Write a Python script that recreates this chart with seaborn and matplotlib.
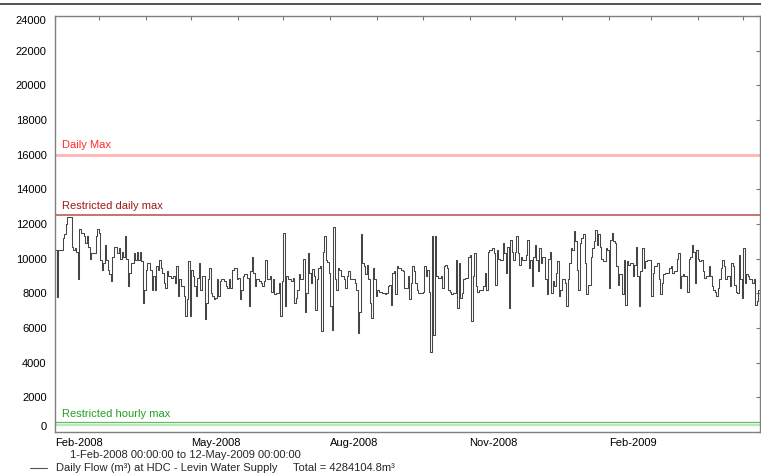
import numpy as np
import pandas as pd
import matplotlib
matplotlib.use("Agg")
import matplotlib.pyplot as plt
import matplotlib.dates as mdates
from matplotlib.lines import Line2D
from matplotlib.ticker import FuncFormatter
import seaborn as sns

# Daily flow (m³), one value per day from 1-Feb-2008
flow_feb_may_2008 = [
    10500, 7800, 10500, 10500, 10500, 11200, 11400, 12000, 12400, 12400, 12400, 10700,
    10500, 10600, 10400, 8800, 11700, 11500, 11500, 11300, 10900, 11300, 10700, 10000,
    10300, 10300, 10300, 11300, 11700, 11500, 9950, 9350, 9750, 10800, 9950, 9350,
    9100, 8700, 10100, 10700, 10700, 10300, 10600, 10000, 10400, 10100, 11300, 10000,
    8400, 9200, 9750, 9750, 10300, 9950, 10400, 9950, 10400, 9850, 7450, 8200,
    9350, 9750, 9750, 9350, 8200, 9000, 8200, 9550, 9350, 9950, 9450, 9200,
    8600, 8300, 9300, 9000, 9000, 8900, 9000, 8600, 9550, 7850, 8800, 8400,
    8400, 7850, 6700, 7650, 9850, 6700, 9350, 9000, 8400, 7850, 8900, 9750,
    8200, 9000, 9000, 6500, 7450, 8800, 9450, 8000, 7850, 7650, 7750, 8800,
    7850, 8700, 8800, 8800, 8700, 8400, 8300, 8800,
]
flow_may_sep_2008 = [
    8300, 9350, 9450, 9450, 8800, 8900, 7650, 8200, 9000, 9100, 9100, 8900,
    7250, 9300, 10100, 9200, 8400, 8800, 8800, 8700, 8600, 8400, 8700, 9950,
    8800, 8800, 9000, 8100, 8800, 7950, 8000, 8000, 8600, 6700, 8700, 11500,
    7250, 9000, 8800, 8800, 8700, 8900, 7450, 7750, 8200, 9100, 8800, 8800,
    10000, 6950, 8000, 10300, 9200, 8600, 9400, 9000, 7050, 8800, 9450, 9550,
    5800, 10400, 11300, 9950, 9800, 9200, 7250, 5900, 11800, 8800, 8200, 9450,
    9350, 9000, 9000, 8800, 8300, 9000, 9300, 8800, 8800, 8800, 8600, 8200,
    5700, 6950, 11400, 9750, 9550, 9100, 9650, 8800, 7450, 6600, 9450, 8800,
    7850, 8200, 8100, 8100, 8000, 8000, 7950, 8000, 8400, 8500, 7350, 9200,
    9300, 7950, 9550, 9450, 9450, 9350, 9300, 8300,
]
flow_sep_2008_jan_2009 = [
    8300, 9000, 7650, 8600, 9550, 9300, 8600, 8200, 8000, 8000, 8000, 8100,
    9550, 9000, 9350, 8100, 4600, 11300, 5600, 11300, 9000, 8900, 8900, 9000,
    8300, 9550, 9650, 9450, 8200, 8100, 7950, 8000, 8000, 9950, 7150, 9750,
    7750, 8000, 8800, 8900, 8900, 10100, 10200, 6400, 9000, 10300, 8400, 8100,
    8200, 8200, 8200, 8400, 9200, 8200, 10400, 10500, 10500, 10600, 10300, 8500,
    10500, 10000, 9950, 9950, 10900, 10300, 9200, 10700, 7150, 11100, 10400, 9950,
    10400, 11300, 10300, 9650, 10100, 9950, 9950, 10200, 11100, 9450, 9950, 8450,
    10100, 10800, 9950, 9300, 10600, 9750, 10100, 10100, 8800, 7950, 10000, 10400,
    8000, 8700, 8400, 9200, 9850, 7850, 8200, 8800, 8800, 8600, 7250, 8800,
    9750, 10600, 10500, 11600, 11000, 9350, 8200, 10900,
]
flow_jan_may_2009 = [
    11200, 11400, 9750, 7950, 8500, 8500, 10100, 10600, 11000, 11650, 10800, 11400,
    10700, 10000, 9850, 9850, 10600, 10500, 8300, 11100, 11500, 11000, 10900, 9550,
    8500, 9100, 9100, 7950, 9950, 7350, 9850, 9650, 9750, 9750, 9000, 9650,
    10700, 9000, 7250, 9300, 10600, 9450, 9850, 9950, 9950, 9950, 7850, 9200,
    9550, 9600, 9750, 8800, 7950, 8600, 9100, 9150, 9150, 9200, 9450, 9550,
    9200, 9300, 9300, 10000, 10350, 8300, 9000, 9100, 9000, 9000, 8100, 10000,
    10100, 10800, 10400, 8600, 10500, 10000, 9850, 9950, 9300, 8900, 9000, 9000,
    9550, 9000, 8400, 8200, 8100, 7850, 8300, 8800, 9450, 9950, 9550, 8800,
    9000, 9000, 8400, 9750, 9550, 8500, 8100, 8000, 10200, 8800, 7750, 10600,
    8600, 9100, 9000, 8800, 8800, 8600, 8800, 7350, 7550, 8200,
]

start_date = "2008-02-01"
end_date = "2009-05-12"

daily_max = 16000
restricted_daily_max = 12500
restricted_hourly_max = 600
hourly_band = 400

y_ticks = list(range(0, 24001, 2000))
quarter_labels = ["Feb-2008", "May-2008", "Aug-2008", "Nov-2008", "Feb-2009"]
legend_label = "Daily Flow (m³) at HDC - Levin Water Supply"
total_label = "Total = 4284104.8m³"
range_label = "1-Feb-2008 00:00:00 to 12-May-2009 00:00:00"

flow = (flow_feb_may_2008 + flow_may_sep_2008
        + flow_sep_2008_jan_2009 + flow_jan_may_2009)
dates = pd.date_range(start_date, periods=len(flow), freq="D")
df = pd.DataFrame({"date": dates, "flow": flow})
# hold the last day's value until the end of the period
df = pd.concat([df, pd.DataFrame({"date": [pd.Timestamp(end_date)],
                                  "flow": [flow[-1]]})], ignore_index=True)

sns.set_style("white")
plt.rcParams["font.family"] = ["Liberation Sans", "DejaVu Sans"]
plt.rcParams["font.size"] = 8

W, H = 761, 475
fig = plt.figure(figsize=(W / 100, H / 100), dpi=100)
ax = fig.add_axes([55 / W, 1 - 432 / H, 705 / W, 416 / H])

sns.lineplot(data=df, x="date", y="flow", ax=ax, estimator=None,
             drawstyle="steps-post", color="#454545", linewidth=0.75,
             legend=False)

# threshold lines
ax.axhline(daily_max, color="#ffb4b4", linewidth=2.0, zorder=1)
ax.axhline(restricted_daily_max, color="#c05a5a", linewidth=1.2, zorder=1)
ax.axhline(hourly_band, color="#bfe6bf", linewidth=1.6, zorder=1)
ax.axhline(restricted_hourly_max, color="#5cc05c", linewidth=0.9, zorder=1)

lbl_tr = ax.get_yaxis_transform()
ax.text(0.0105, daily_max + 250, "Daily Max", color="#ff2a2a",
        transform=lbl_tr, ha="left", va="bottom", fontsize=8)
ax.text(0.0105, restricted_daily_max + 250, "Restricted daily max",
        color="#a01818", transform=lbl_tr, ha="left", va="bottom", fontsize=8)
ax.text(0.0105, restricted_hourly_max + 150, "Restricted hourly max",
        color="#22a022", transform=lbl_tr, ha="left", va="bottom", fontsize=8)

ax.set_xlim(pd.Timestamp(start_date), pd.Timestamp(end_date))
ax.set_ylim(0, 24000)
ax.set_yticks(y_ticks)
ax.set_xlabel("")
ax.set_ylabel("")

ax.xaxis.set_major_locator(mdates.MonthLocator())


def quarter_label(x, pos):
    s = mdates.num2date(x).strftime("%b-%Y")
    return s if s in quarter_labels else ""


ax.xaxis.set_major_formatter(FuncFormatter(quarter_label))
ax.tick_params(axis="both", direction="in", length=3, width=0.8,
               color="#777777", top=True, right=True, labelsize=8,
               labelcolor="black")
ax.tick_params(axis="y", pad=6)
ax.tick_params(axis="x", pad=4)
for t in ax.get_xticklabels():
    t.set_ha("left")

ylabels = ax.get_yticklabels()
ylabels[0].set_va("bottom")
ylabels[-1].set_va("top")

for s in ax.spines.values():
    s.set_color("#808080")
    s.set_linewidth(1.0)

# header rule
fig.add_artist(Line2D([0, 1], [1 - 4 / H, 1 - 4 / H], color="#444444",
                      linewidth=1.3))

# footer: period and series key
fig.text(70 / W, 1 - 455 / H, range_label, ha="left", va="center", fontsize=8)
fig.add_artist(Line2D([30 / W, 47 / W], [1 - 468 / H, 1 - 468 / H],
                      color="#555555", linewidth=0.8))
fig.text(56 / W, 1 - 468 / H, legend_label, ha="left", va="center", fontsize=8)
fig.text(293 / W, 1 - 468 / H, total_label, ha="left", va="center", fontsize=8)

fig.savefig("out.png", dpi=100)
